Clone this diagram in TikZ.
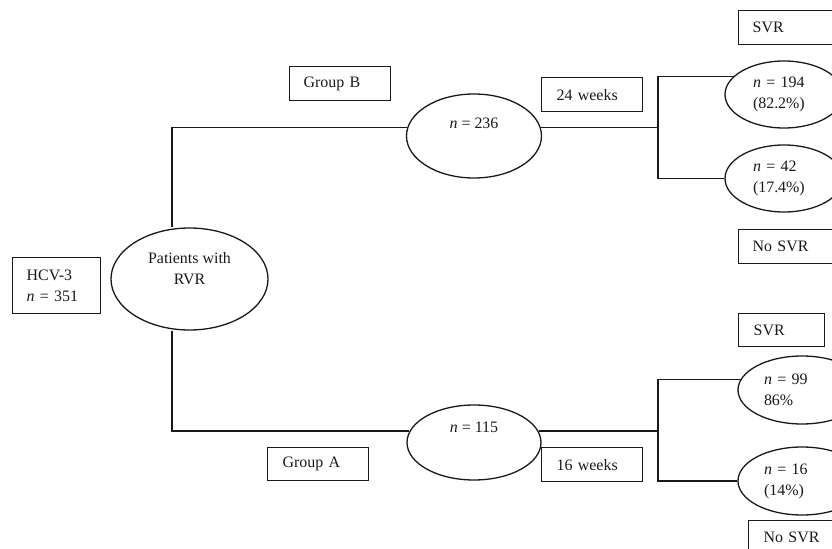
\documentclass[tikz,border=0pt]{standalone}
\usepackage{fontspec}
\setmainfont{Liberation Serif}
\usetikzlibrary{shapes.geometric}
\begin{document}
\begin{tikzpicture}[x=1bp,y=-1bp,
  every node/.style={font=\fontsize{16}{21}\selectfont, text=black!90},
  conn/.style={draw=black!90, line width=1.3bp},
  bx/.style={draw=black!90, line width=1.3bp, rectangle, inner ysep=0pt, align=left, anchor=north west},
  ell/.style={draw=black!90, line width=1.3bp, ellipse, inner sep=0pt, align=left},
  lbl/.style={align=center, inner sep=0pt}]
\useasboundingbox (0,0) rectangle (832,549);
\clip (0,0) rectangle (832,549);

% boxes
\node[bx, inner xsep=14bp, text width=60bp, minimum height=56bp] (hcv) at (12,257) {HCV-3\\\textit{n} = 351};
\node[bx, inner xsep=14bp, text width=73bp, minimum height=34bp] (gB) at (289,66) {Group B};
\node[bx, inner xsep=15bp, text width=71bp, minimum height=34bp] (w24) at (541,77) {24 weeks};
\node[bx, inner xsep=15bp, text width=71bp, minimum height=34bp] (w16) at (541,447) {16 weeks};
\node[bx, inner xsep=15bp, text width=71bp, minimum height=33bp] (gA) at (267,447) {Group A};
\node[bx, inner xsep=14bp, text width=72bp, minimum height=34bp] (svr1) at (738,10) {SVR};
\node[bx, inner xsep=14bp, text width=72bp, minimum height=34bp] (nsvr1) at (738,229) {No SVR};
\node[bx, inner xsep=15bp, text width=56bp, minimum height=33bp] (svr2) at (738,313) {SVR};
\node[bx, inner xsep=15bp, text width=70bp, minimum height=34bp] (nsvr2) at (748,520) {No SVR};

% ellipses
\node[ell, minimum width=157bp, minimum height=102bp,
  label={[lbl,yshift=10bp]center:Patients with\\RVR}] (rvr) at (189.5,279) {};
\node[ell, minimum width=135bp, minimum height=84bp,
  label={[lbl,yshift=13bp]center:\textit{n} = 236}] (n236) at (474,136) {};
\node[ell, minimum width=134bp, minimum height=75bp,
  label={[lbl,yshift=15bp]center:\textit{n} = 115}] (n115) at (474,442.5) {};
\node[ell, minimum width=118bp, minimum height=67bp, text width=62bp] (n194) at (784,94.5) {\textit{n} = 194\\(82.2\%)};
\node[ell, minimum width=118bp, minimum height=67bp, text width=62bp] (n42) at (784,178.5) {\textit{n} = 42\\(17.4\%)};
\node[ell, minimum width=128bp, minimum height=68bp, text width=76bp] (n99) at (802,390) {\textit{n} = 99\\86\%};
\node[ell, minimum width=128bp, minimum height=68bp, text width=76bp] (n16) at (802,481) {\textit{n} = 16\\(14\%)};

% connectors
\coordinate (jl) at (172,0);
\coordinate (jr) at (658,0);
\draw[conn] (jl |- rvr.north) -- (jl |- n236.173) -- (n236.173);
\draw[conn] (jl |- rvr.south) -- (jl |- n115.170) -- (n115.170);
\draw[conn] (n236.7) -- (jr |- n236.7);
\draw[conn] (n194.160) -- (jr |- n194.160) -- (jr |- n42.west) -- (n42.west);
\draw[conn] (n115.10) -- (jr |- n115.10);
\draw[conn] (n99.170) -- (jr |- n99.170) -- (jr |- n16.west) -- (n16.west);
\end{tikzpicture}
\end{document}
